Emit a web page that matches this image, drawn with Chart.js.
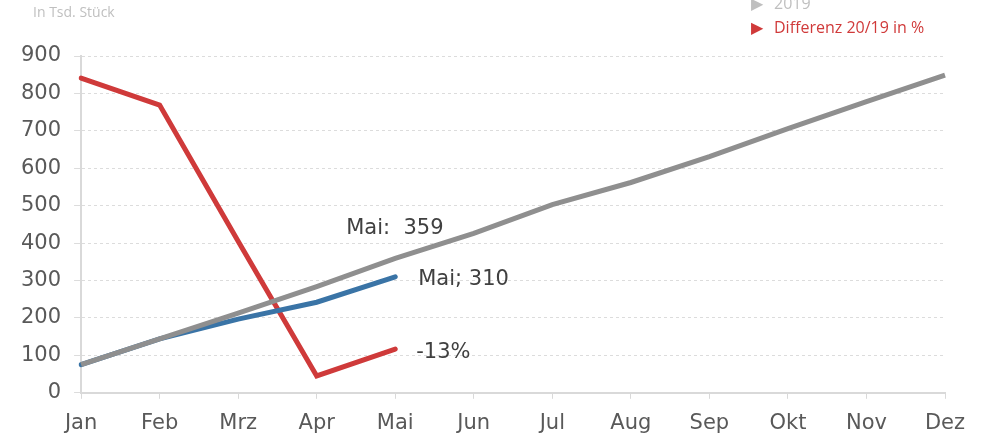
<!DOCTYPE html>
<html>
<head>
<meta charset="utf-8">
<script src="https://cdn.jsdelivr.net/npm/chart.js@4"></script>
<style>
  body { margin: 0; background: #fff; }
  #wrap { position: relative; width: 981px; height: 435px; }
  .note { position: absolute; font-family: "Open Sans", sans-serif; white-space: nowrap; }
  .tri { display: inline-block; width: 23px; font-size: 16px; }
</style>
</head>
<body>
<div id="wrap">
  <canvas id="chart" width="981" height="435"></canvas>
  <div class="note" style="left:33px; top:2px; font-size:14px; color:#bfbfbf;">In Tsd. Stück</div>
  <div class="note" style="left:751px; top:-8px; font-size:16px; color:#bfbfbf;"><span class="tri">&#9654;</span>2019</div>
  <div class="note" style="left:751px; top:16px; font-size:16px; color:#d03a3a;"><span class="tri">&#9654;</span>Differenz 20/19 in %</div>
</div>
<script>
const months = ["Jan", "Feb", "Mrz", "Apr", "Mai", "Jun", "Jul", "Aug", "Sep", "Okt", "Nov", "Dez"];
const values2019 = [75, 144, 213, 284, 359, 426, 503, 562, 631, 706, 778, 849];
const values2020 = [75, 144, 197, 242, 310];
const diffLine = [841, 769, 405, 45, 117];
const diffLabel = "-13%";

const tickFont = { family: "DejaVu Sans", size: 21 };

const labelPlugin = {
  id: "endLabels",
  afterDatasetsDraw(chart) {
    const c = chart.ctx;
    const x = chart.scales.x.getPixelForValue(4);
    const y = chart.scales.y;
    c.save();
    c.font = "21px 'DejaVu Sans'";
    c.fillStyle = "#404040";
    c.textBaseline = "middle";
    c.fillText("Mai:  " + values2019[4], x - 49, y.getPixelForValue(values2019[4]) - 30);
    c.fillText("Mai; " + values2020[4], x + 23, y.getPixelForValue(values2020[4]) + 3);
    c.fillText(diffLabel, x + 21, y.getPixelForValue(diffLine[4]) + 4);
    c.restore();
  }
};

const ctx = document.getElementById("chart");
new Chart(ctx, {
  type: "line",
  data: {
    labels: months,
    datasets: [
      { label: "2019", data: values2019, borderColor: "#8f8f8f", borderWidth: 5, pointRadius: 0, tension: 0 },
      { label: "2020", data: values2020, borderColor: "#3a74a6", borderWidth: 5, pointRadius: 0, tension: 0, borderCapStyle: "round" },
      { label: "Differenz 20/19 in %", data: diffLine, borderColor: "#cf3a3a", borderWidth: 5, pointRadius: 0, tension: 0, borderCapStyle: "round" },
    ],
  },
  options: {
    responsive: false,
    animation: false,
    layout: { padding: { top: 56, right: 36, left: 8, bottom: -13 } },
    plugins: { legend: { display: false }, tooltip: { enabled: false } },
    scales: {
      x: {
        offset: false,
        grid: { drawOnChartArea: false, drawTicks: true, tickLength: 6, color: "#d9d9d9" },
        border: { color: "#d9d9d9", width: 2 },
        ticks: { color: "#595959", font: tickFont, padding: 12, maxRotation: 0, autoSkip: false },
      },
      y: {
        min: 0,
        max: 900,
        grid: { color: "#dcdcdc", tickLength: 7, drawTicks: true },
        border: { color: "#d9d9d9", width: 2, dash: [3, 3] },
        ticks: { stepSize: 100, color: "#595959", font: tickFont, padding: 13 },
      },
    },
  },
  plugins: [labelPlugin],
});
</script>
</body>
</html>
